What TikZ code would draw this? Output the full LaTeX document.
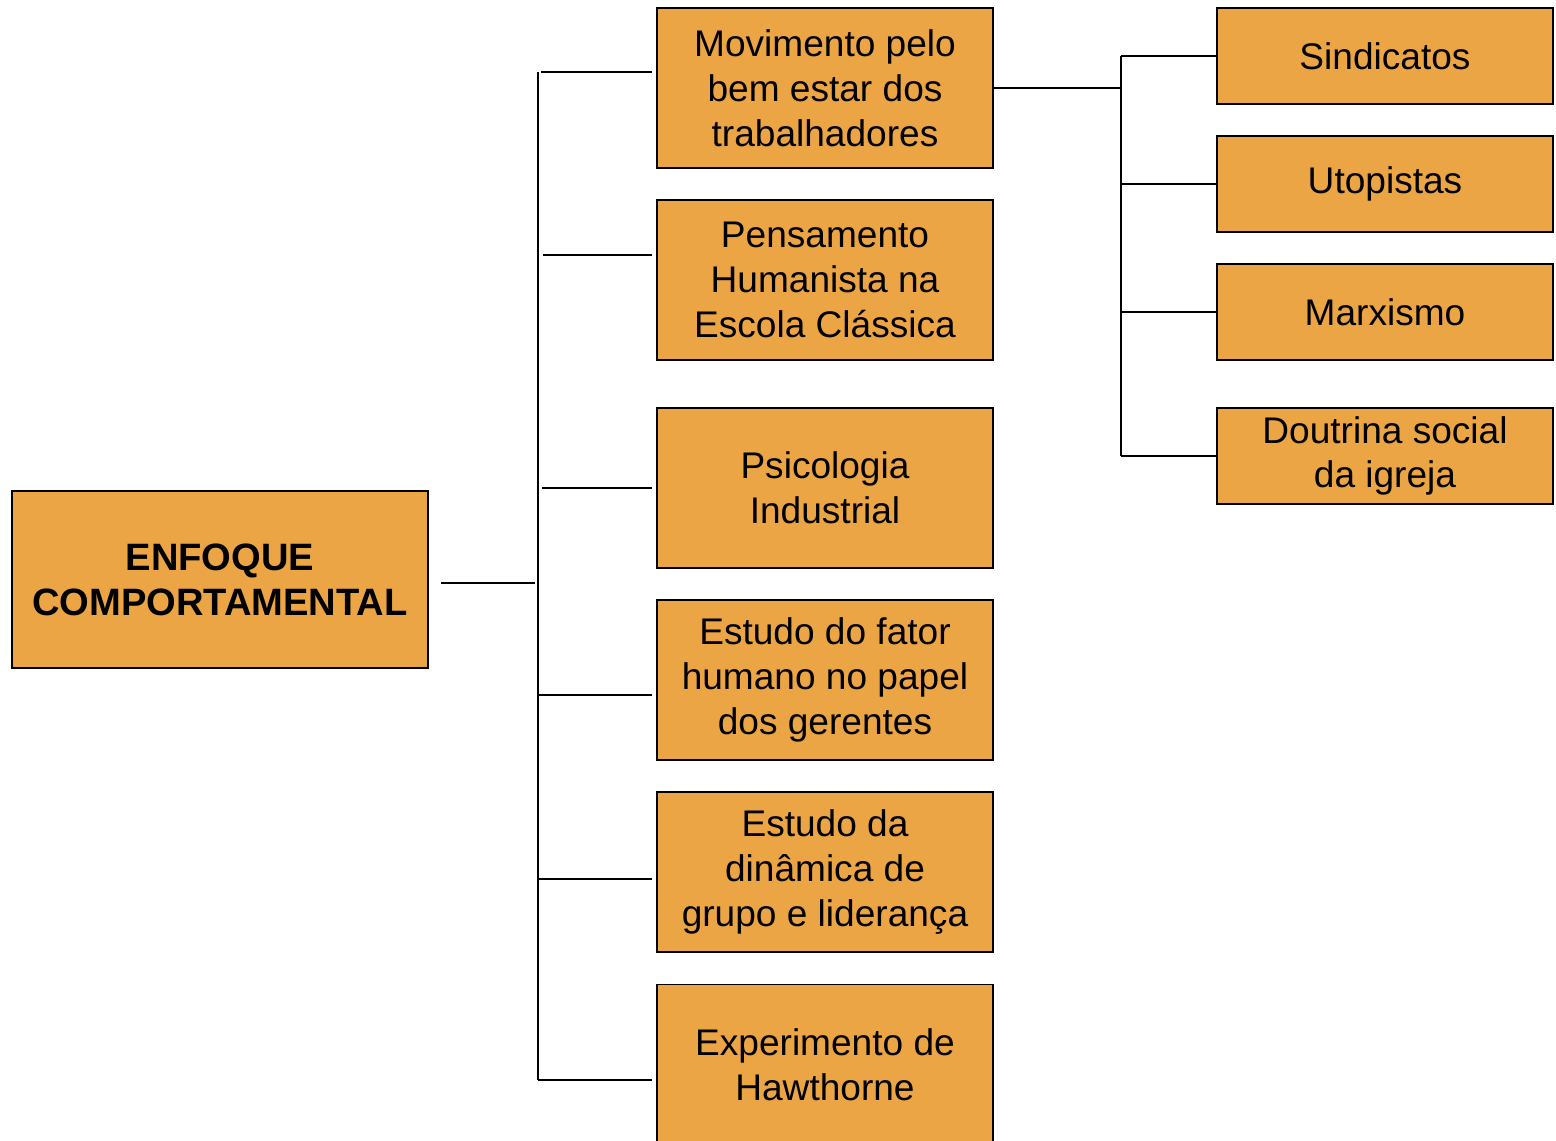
\documentclass[tikz,border=0pt]{standalone}
\usepackage{fontspec}
\setmainfont{Liberation Sans}
\usetikzlibrary{calc}
\definecolor{boxorange}{RGB}{235,165,69}
\tikzset{
	box/.style={draw=black, fill=boxorange, line width=1.1pt, inner sep=0pt, align=center,
		font=\fontsize{21.1}{25.5}\selectfont},
	midbox/.style={box, minimum width=6.72cm, minimum height=3.2cm},
	sidebox/.style={box, minimum width=6.72cm, minimum height=1.92cm},
	link/.style={line width=1pt}
}

\begin{document}
\begin{tikzpicture}[x=0.02cm, y=-0.02cm]
			%%%%% START %%%%%
			
			\useasboundingbox (0, 0) rectangle (1556, 1141);
			
			\node[box, minimum width=8.32cm, minimum height=3.54cm, font=\fontsize{21.7}{25.5}\selectfont\bfseries] (root) at (220, 579.5) {ENFOQUE\\COMPORTAMENTAL};
			
			\node[midbox] (mov) at (825, 88) {Movimento pelo\\bem estar dos\\trabalhadores};
			\node[midbox] (pens) at (825, 280) {Pensamento\\Humanista na\\Escola Clássica};
			\node[midbox] (psi) at (825, 488) {Psicologia\\Industrial};
			\node[midbox] (fator) at (825, 680) {Estudo do fator\\humano no papel\\dos gerentes};
			\node[midbox] (din) at (825, 872) {Estudo da\\dinâmica de\\grupo e liderança};
			\node[midbox] (haw) at (825, 1064.5) {Experimento de\\Hawthorne};
			
			\node[sidebox] (sind) at (1385, 56) {Sindicatos};
			\node[sidebox] (utop) at (1385, 184) {Utopistas};
			\node[sidebox] (marx) at (1385, 312) {Marxismo};
			\node[sidebox] (dout) at (1385, 456) {Doutrina social\\da igreja};
			
			% left tree
			\coordinate (spine) at (538, 583);
			\draw[link] ([xshift=0.24cm]root.east |- spine) -- ([xshift=-0.06cm]spine);
			\draw[link] (538, 72) -- (538, 1080);
			\foreach \n/\y/\xa in {mov/72/541, pens/255/543, psi/488/542, fator/695/538, din/879/538, haw/1080/538}
				\draw[link] (\xa, \y) -- ($(\n.west |- 0,\y)+(-0.08cm,0)$);
			
			% right tree
			\coordinate (hub) at (1121, 88);
			\draw[link] (mov.east) -- (hub);
			\draw[link] (hub |- sind.west) -- (hub |- dout.west);
			\foreach \n in {sind, utop, marx, dout}
				\draw[link] (hub |- \n.west) -- (\n.west);
			
			%%%%% END %%%%%
		\end{tikzpicture}
\end{document}
